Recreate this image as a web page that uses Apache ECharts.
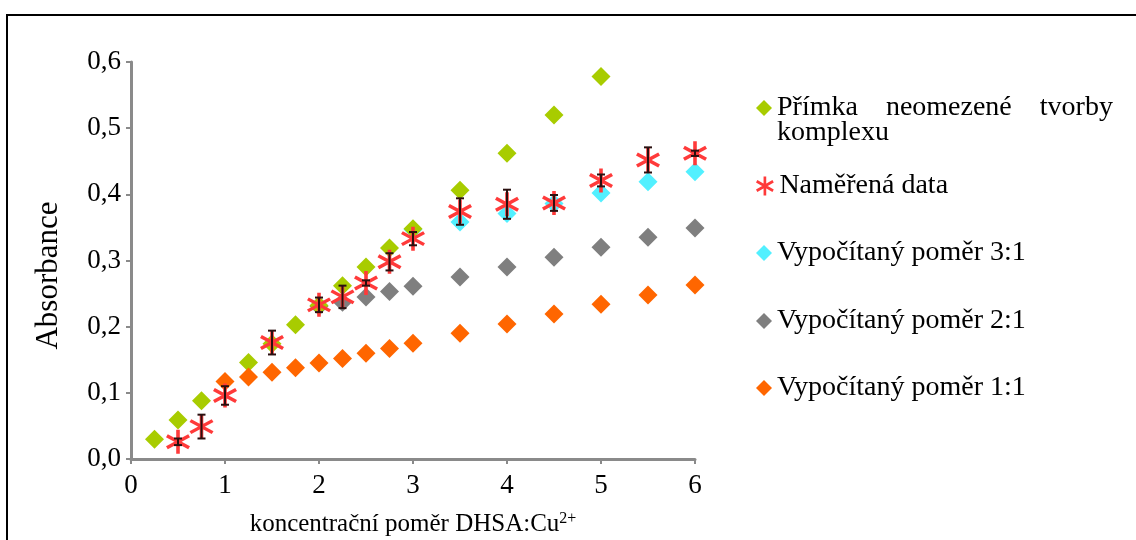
<!DOCTYPE html>
<html>
<head>
<meta charset="utf-8">
<script src="https://cdn.jsdelivr.net/npm/echarts@6/dist/echarts.min.js"></script>
<style>
  html, body { margin: 0; padding: 0; background: #fff; }
  #chart { width: 1136px; height: 540px; }
</style>
</head>
<body>
<div id="chart"></div>
<script>
// přímka neomezené tvorby komplexu
var greenX = [0.25, 0.5, 0.75, 1.25, 1.5, 1.75, 2, 2.25, 2.5, 2.75, 3, 3.5, 4, 4.5, 5];
var greenY = [0.030, 0.059, 0.088, 0.146, 0.174, 0.203, 0.232, 0.262, 0.290, 0.319, 0.348, 0.406, 0.462, 0.520, 0.578];

// naměřená data + chyby
var measX = [0.5, 0.75, 1, 1.5, 2, 2.25, 2.5, 2.75, 3, 3.5, 4, 4.5, 5, 5.5, 6];
var measY = [0.026, 0.049, 0.096, 0.176, 0.233, 0.245, 0.266, 0.298, 0.333, 0.374, 0.385, 0.387, 0.421, 0.452, 0.462];
var measErr = [0.005, 0.018, 0.014, 0.018, 0.011, 0.017, 0.004, 0.013, 0.010, 0.020, 0.022, 0.012, 0.009, 0.019, 0.004];

// vypočítané poměry
var r31X = [3, 3.5, 4, 4.5, 5, 5.5, 6];
var r31Y = [0.347, 0.358, 0.371, 0.386, 0.402, 0.419, 0.434];
var r21X = [2, 2.25, 2.5, 2.75, 3, 3.5, 4, 4.5, 5, 5.5, 6];
var r21Y = [0.231, 0.237, 0.245, 0.253, 0.261, 0.275, 0.290, 0.305, 0.320, 0.335, 0.349];
var r11X = [1, 1.25, 1.5, 1.75, 2, 2.25, 2.5, 2.75, 3, 3.5, 4, 4.5, 5, 5.5, 6];
var r11Y = [0.117, 0.124, 0.131, 0.138, 0.145, 0.152, 0.160, 0.167, 0.175, 0.190, 0.204, 0.219, 0.234, 0.248, 0.263];

var names = ['Přímka neomezené tvorby komplexu', 'Naměřená data', 'Vypočítaný poměr 3:1', 'Vypočítaný poměr 2:1', 'Vypočítaný poměr 1:1'];

function pairs(xs, ys) {
  return xs.map(function (x, i) { return [x, ys[i]]; });
}

// hvězdička (6 ramen) jako path
function starPath() {
  var L = 10, w = 1.4, d = '';
  [90, 30, 150].forEach(function (a) {
    var r = a * Math.PI / 180;
    var ux = Math.cos(r), uy = Math.sin(r), px = -uy, py = ux;
    var pts = [
      [ L * ux + w * px,  L * uy + w * py],
      [ L * ux - w * px,  L * uy - w * py],
      [-L * ux - w * px, -L * uy - w * py],
      [-L * ux + w * px, -L * uy + w * py]
    ];
    d += 'M' + pts.map(function (p) { return (p[0] + 10).toFixed(2) + ',' + (p[1] + 10).toFixed(2); }).join('L') + 'Z';
  });
  return 'path://' + d;
}
var STAR = starPath();

var FONT = 'Liberation Serif';
var chart = echarts.init(document.getElementById('chart'));

var legendTops = [89, 167, 234, 302, 369];
var legendTexts = ['Přímka    neomezené    tvorby', 'Naměřená data', 'Vypočítaný poměr 3:1', 'Vypočítaný poměr 2:1', 'Vypočítaný poměr 1:1'];
var legends = names.map(function (n, i) {
  return {
    data: [n],
    orient: 'vertical',
    left: 751,
    top: legendTops[i],
    itemWidth: i === 1 ? 19 : 16,
    itemHeight: i === 1 ? 19 : 16,
    selectedMode: false,
    formatter: function () { return legendTexts[i]; },
    textStyle: { fontFamily: FONT, fontSize: 28, color: '#000', lineHeight: 28 }
  };
});

var option = {
  animation: false,
  backgroundColor: '#fff',
  graphic: [
    { type: 'rect', shape: { x: 7, y: 15, width: 1200, height: 600 }, style: { fill: 'none', stroke: '#000', lineWidth: 2 }, z: -1 },
    { type: 'text', left: 777, top: 119, style: { text: 'komplexu', font: '28px "Liberation Serif"', fill: '#000' } }
  ],
  legend: legends,
  grid: { left: 131, right: 441, top: 62, bottom: 81, containLabel: false, outerBoundsMode: 'none' },
  xAxis: {
    type: 'value', min: 0, max: 6, interval: 1,
    name: 'koncentrační poměr DHSA:Cu{sup|2+}',
    nameLocation: 'middle', nameGap: 52,
    nameTextStyle: {
      fontFamily: FONT, fontSize: 25, color: '#000',
      rich: { sup: { fontFamily: FONT, fontSize: 16, color: '#000', verticalAlign: 'bottom', padding: [0, 0, 11, 0] } }
    },
    axisLine: { show: true, onZero: false, lineStyle: { color: '#8a8a8a', width: 3 } },
    axisTick: { show: true, length: 5, lineStyle: { color: '#8a8a8a', width: 2 } },
    axisLabel: { fontFamily: FONT, fontSize: 27, color: '#000', margin: 13 },
    splitLine: { show: false }
  },
  yAxis: {
    type: 'value', min: 0, max: 0.6, interval: 0.1,
    name: 'Absorbance',
    nameLocation: 'middle', nameGap: 67,
    nameTextStyle: { fontFamily: FONT, fontSize: 31, color: '#000', padding: [0, 30, 0, 0] },
    axisLine: { show: true, lineStyle: { color: '#8a8a8a', width: 3 } },
    axisTick: { show: true, length: 5, lineStyle: { color: '#8a8a8a', width: 2 } },
    axisLabel: {
      fontFamily: FONT, fontSize: 27, color: '#000', margin: 10,
      formatter: function (v) { return v.toFixed(1).replace('.', ','); }
    },
    splitLine: { show: false }
  },
  series: [
    { name: names[2], type: 'scatter', z: 1, symbol: 'diamond', symbolSize: 19, itemStyle: { color: '#52f0ff', opacity: 1 }, data: pairs(r31X, r31Y) },
    { name: names[3], type: 'scatter', z: 2, symbol: 'diamond', symbolSize: 19, itemStyle: { color: '#7f7f7f', opacity: 1 }, data: pairs(r21X, r21Y) },
    { name: names[0], type: 'scatter', z: 3, symbol: 'diamond', symbolSize: 19, itemStyle: { color: '#a8cc00', opacity: 1 }, data: pairs(greenX, greenY) },
    { name: names[4], type: 'scatter', z: 4, symbol: 'diamond', symbolSize: 19, itemStyle: { color: '#ff6600', opacity: 1 }, data: pairs(r11X, r11Y) },
    { name: names[1], type: 'scatter', z: 5, symbol: STAR, symbolSize: 24, itemStyle: { color: '#ff3a3a', opacity: 1 }, data: pairs(measX, measY) },
    {
      type: 'custom', z: 6, silent: true,
      data: measX.map(function (x, i) { return [x, measY[i] - measErr[i], measY[i] + measErr[i]]; }),
      renderItem: function (params, api) {
        var lo = api.coord([api.value(0), api.value(1)]);
        var hi = api.coord([api.value(0), api.value(2)]);
        var cap = 4;
        var st = { stroke: '#2a1010', lineWidth: 2 };
        return {
          type: 'group',
          children: [
            { type: 'line', shape: { x1: lo[0], y1: lo[1], x2: hi[0], y2: hi[1] }, style: st },
            { type: 'line', shape: { x1: lo[0] - cap, y1: lo[1], x2: lo[0] + cap, y2: lo[1] }, style: st },
            { type: 'line', shape: { x1: hi[0] - cap, y1: hi[1], x2: hi[0] + cap, y2: hi[1] }, style: st }
          ]
        };
      }
    }
  ]
};

chart.setOption(option);
</script>
</body>
</html>
